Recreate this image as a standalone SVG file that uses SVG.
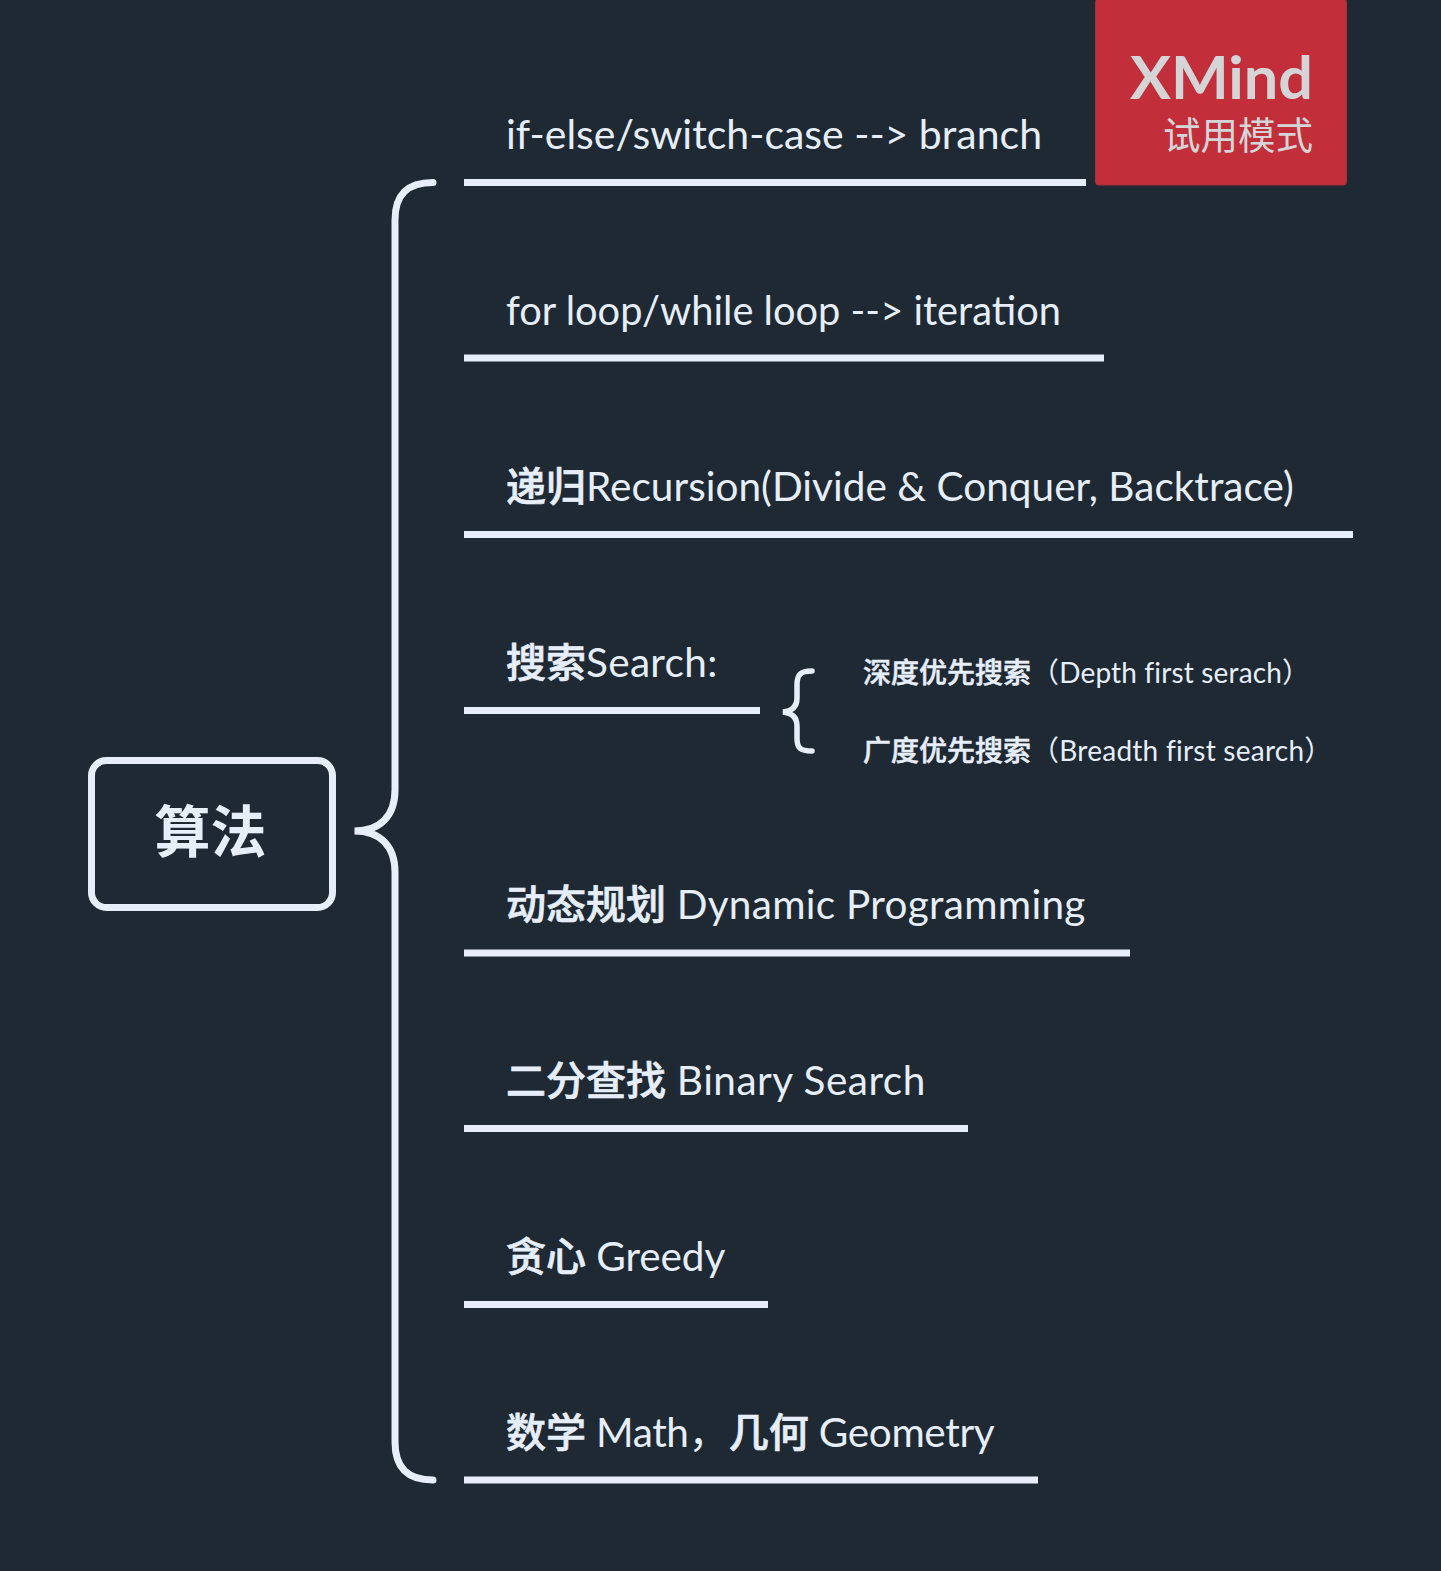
<svg xmlns="http://www.w3.org/2000/svg" width="1441" height="1571" viewBox="0 0 1441 1571">
<style>
text{font-family:"Lato","Noto Sans CJK SC",sans-serif;fill:#e6eefa}
.t{font-size:40.5px}
.s{font-size:28px}
.c{font-weight:500;font-size:40px;letter-spacing:0;stroke:#e6eefa;stroke-width:.7px}
.s .c{font-size:28px;stroke-width:.5px}
.l{fill:none;stroke:#e6eefa;stroke-width:7}
.b{fill:none;stroke:#e6eefa;stroke-width:7;stroke-linecap:round}
</style>
<rect width="1441" height="1571" fill="#1f2933"/>
<g id="connectors">
<path class="b" d="M433 182.500C408 182.500 395 194 395 220V790C395 816 380 831 354.500 831C380 831 395 846 395 872V1442C395 1468 408 1480 433 1480"/>
<path d="M812 671C800 671 797 675 797 685V698C797 706 793 711 783 712C793 713 797 718 797 726V738C797 748 800 751 812 751" fill="none" stroke="#e6eefa" stroke-width="5.500" stroke-linecap="round"/>
<path class="l" d="M464 182.500H1086M464 358H1104M464 534.500H1353M464 710.500H760M464 953H1130M464 1128.500H968M464 1304.500H768M464 1480H1038"/>
</g>
<g id="root"><rect x="91.500" y="760.500" width="241" height="147" rx="15" fill="none" stroke="#e6eefa" stroke-width="7"/>
<text x="210.500" y="852" font-size="56" font-weight="700" text-anchor="middle">算法</text></g>
<g id="n1"><text class="t" x="506" y="148.500" textLength="536" lengthAdjust="spacingAndGlyphs">if-else/switch-case --&gt; branch</text></g>
<g id="n2"><text class="t" x="506" y="324.500" textLength="555" lengthAdjust="spacingAndGlyphs">for loop/while loop --&gt; iteration</text></g>
<g id="n3"><text class="t" x="506" y="500.500" letter-spacing=".03"><tspan class="c">递归</tspan>Recursion(Divide &amp; Conquer, Backtrace)</text></g>
<g id="n4"><text class="t" x="506" y="676.500" letter-spacing=".33"><tspan class="c">搜索</tspan>Search:</text></g>
<g id="n41"><text class="s" x="863" y="683" letter-spacing=".16"><tspan class="c">深度优先搜索</tspan>（Depth first serach）</text></g>
<g id="n42"><text class="s" x="863" y="760.500" letter-spacing=".25"><tspan class="c">广度优先搜索</tspan>（Breadth first search）</text></g>
<g id="n5"><text class="t" x="506" y="918.500" letter-spacing=".3"><tspan class="c">动态规划</tspan> Dynamic Programming</text></g>
<g id="n6"><text class="t" x="506" y="1094.500" letter-spacing=".5"><tspan class="c">二分查找</tspan> Binary Search</text></g>
<g id="n7"><text class="t" x="506" y="1270.500" letter-spacing="-.1"><tspan class="c">贪心</tspan> Greedy</text></g>
<g id="n8"><text class="t" x="506" y="1446.500" letter-spacing="-.35"><tspan class="c">数学</tspan> Math，<tspan class="c">几何</tspan> Geometry</text></g>
<g id="watermark"><rect x="1095.500" y="-1" width="251" height="186" rx="3" fill="#c22f3b" stroke="#a92f3b"/>
<text x="1130" y="98.500" font-size="60" font-weight="700" style="fill:#d5d5d8" textLength="183" lengthAdjust="spacingAndGlyphs">XMind</text>
<text x="1163" y="148.500" font-size="37.500" style="fill:#d5d5d8">试用模式</text></g>
</svg>
